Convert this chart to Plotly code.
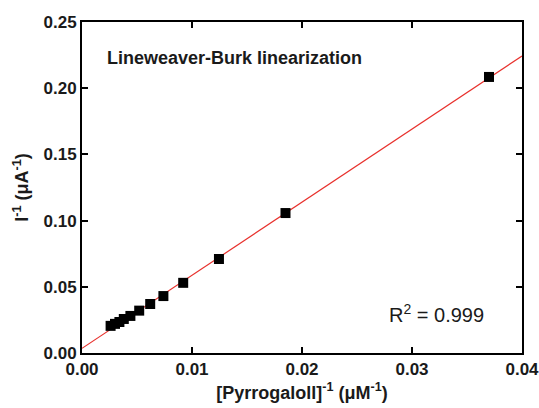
import plotly.graph_objects as go

inv_conc = [0.0370, 0.0185, 0.01245, 0.0092, 0.0074, 0.0062, 0.0052, 0.0044, 0.0038, 0.0034, 0.0030, 0.0026]
inv_current = [0.2085, 0.1057, 0.0710, 0.0530, 0.0430, 0.0370, 0.0320, 0.0280, 0.0257, 0.0234, 0.0220, 0.0205]
fit_slope = 5.52
fit_intercept = 0.0035
fit_x = [0.0, 0.04]
fit_y = [fit_intercept + fit_slope * x for x in fit_x]

font = "Liberation Sans, Arial, sans-serif"
ink = "#1a1a1a"

fig = go.Figure()
fig.add_trace(go.Scatter(x=fit_x, y=fit_y, mode="lines",
                         line=dict(color="#e8302c", width=1.2), showlegend=False))
fig.add_trace(go.Scatter(x=inv_conc, y=inv_current, mode="markers",
                         marker=dict(symbol="square", size=10, color="black"),
                         showlegend=False))

axis_common = dict(showline=True, linewidth=2, linecolor="black", mirror="ticks",
                   ticks="inside", ticklen=6, tickwidth=2, tickcolor="black",
                   showgrid=False, zeroline=False, automargin=False,
                   ticklabeloverflow="allow",
                   tickfont=dict(family=font, size=17, color=ink, weight="bold"))

fig.update_xaxes(range=[0, 0.04], tickvals=[0, 0.01, 0.02, 0.03, 0.04],
                 ticktext=["0.00", "0.01", "0.02", "0.03", "0.04"],
                 title=dict(text="[Pyrrogaloll]<sup>-1</sup> (μM<sup>-1</sup>)",
                            font=dict(family=font, size=18, color=ink, weight="bold"),
                            standoff=8),
                 **axis_common)
fig.update_yaxes(range=[0, 0.25], tickvals=[0, 0.05, 0.10, 0.15, 0.20, 0.25],
                 ticktext=["0.00", "0.05", "0.10", "0.15", "0.20", "0.25"],
                 title=dict(text="I<sup>-1</sup> (μA<sup>-1</sup>)",
                            font=dict(family=font, size=18, color=ink, weight="bold"),
                            standoff=10),
                 **axis_common)

fig.add_annotation(x=0.0021, y=0.2228, xref="x", yref="y", xanchor="left", yanchor="middle",
                   text="<b>Lineweaver-Burk linearization</b>", showarrow=False,
                   font=dict(family=font, size=18, color=ink))
fig.add_annotation(x=0.0277, y=0.030, xref="x", yref="y", xanchor="left", yanchor="middle",
                   text="R<sup>2</sup> = 0.999", showarrow=False,
                   font=dict(family=font, size=20, color=ink))

fig.update_layout(width=539, height=408, margin=dict(l=82, r=17, t=22, b=55),
                  plot_bgcolor="white", paper_bgcolor="white")
fig.write_html("out.html")
